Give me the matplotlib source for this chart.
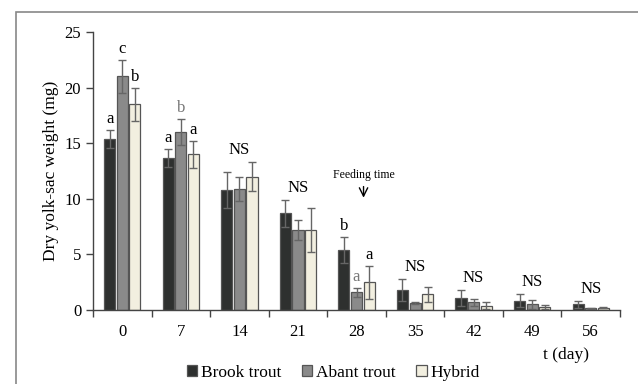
import numpy as np
import matplotlib
matplotlib.use('Agg')
from matplotlib import pyplot as plt
from matplotlib.patches import Rectangle

plt.rcParams['font.family'] = ['Liberation Serif', 'DejaVu Serif']

days = ['0', '7', '14', '21', '28', '35', '42', '49', '56']
brook = [15.4, 13.7, 10.8, 8.7, 5.4, 1.8, 1.1, 0.85, 0.5]
brook_err = [0.8, 0.8, 1.6, 1.2, 1.2, 1.0, 0.7, 0.6, 0.3]
abant = [21.0, 16.0, 10.9, 7.2, 1.6, 0.6, 0.7, 0.5, 0.15]
abant_err = [1.5, 1.2, 1.1, 0.9, 0.4, 0.1, 0.3, 0.4, 0.05]
hybrid = [18.5, 14.0, 12.0, 7.2, 2.5, 1.4, 0.4, 0.25, 0.2]
hybrid_err = [1.5, 1.2, 1.3, 2.0, 1.5, 0.7, 0.3, 0.2, 0.05]

# significance letters per group (None = NS over the group)
letters = [('a', 'c', 'b'), ('a', 'b', 'a'), None, None, ('b', 'a', 'a'),
           None, None, None, None]
letter_colors = [('black', 'black', 'black'), ('black', '#777777', 'black'), None, None,
                 ('black', '#777777', 'black'), None, None, None, None]

fig = plt.figure(figsize=(6.38, 3.84), dpi=100)
ax = fig.add_axes([0.1458, 0.1927, 0.8260, 0.724])

# outer frame
fig.patches.append(Rectangle((16 / 638, -0.1), 1.2, 1 - 12 / 384 + 0.1,
                             transform=fig.transFigure, fill=False,
                             edgecolor='#888888', linewidth=1.2))

x = np.arange(len(days))
w = 0.19
step = 0.215
series = [(brook, brook_err, '#2e302f', 'Brook trout'),
          (abant, abant_err, '#8a8a8a', 'Abant trout'),
          (hybrid, hybrid_err, '#f2efe0', 'Hybrid')]

for i, (vals, errs, col, name) in enumerate(series):
    ax.bar(x + (i - 1) * step, vals, w, yerr=errs, color=col, edgecolor='#555555',
           linewidth=0.9, label=name,
           error_kw=dict(ecolor='#666666', elinewidth=1, capsize=3, capthick=1))

for g in range(len(days)):
    tops = [brook[g] + brook_err[g], abant[g] + abant_err[g], hybrid[g] + hybrid_err[g]]
    if letters[g] is None:
        ax.annotate('NS', (g, max(tops)), xytext=(0, 3), textcoords='offset points',
                    ha='center', va='bottom', fontsize=12)
    else:
        for i in range(3):
            ax.annotate(letters[g][i], (g + (i - 1) * step, tops[i]), xytext=(0, 2),
                        textcoords='offset points', ha='center', va='bottom',
                        fontsize=12, color=letter_colors[g][i])

ax.text(4.13, 12.1, 'Feeding time', ha='center', va='center', fontsize=8.5)
ax.annotate('', xy=(4.12, 9.85), xytext=(4.12, 11.35),
            arrowprops=dict(arrowstyle='->', color='black', lw=1, mutation_scale=15))

ax.set_xlim(-0.5, 8.5)
ax.set_ylim(0, 25)
ax.set_yticks([0, 5, 10, 15, 20, 25])
ax.set_xticks(np.arange(-0.5, 9, 1))
ax.set_xticklabels([])
ax.set_xticks(x, minor=True)
ax.set_xticklabels(days, minor=True)
ax.tick_params(axis='x', which='minor', length=0, pad=10, labelsize=12)
ax.tick_params(axis='x', which='major', length=5, width=1, color='#444444')
ax.tick_params(axis='y', length=5, width=1, color='#444444', labelsize=12)
for s in ['top', 'right']:
    ax.spines[s].set_visible(False)
for s in ['left', 'bottom']:
    ax.spines[s].set_color('#444444')
    ax.spines[s].set_linewidth(1)

ax.set_ylabel('Dry yolk-sac weight (mg)', fontsize=12.5)
fig.text(566 / 638, 1 - 355 / 384, 't (day)', ha='center', va='center', fontsize=12.5)

ax.legend(loc='center', bbox_to_anchor=(333 / 638, 1 - 373 / 384),
          bbox_transform=fig.transFigure, ncol=3, frameon=False, fontsize=12.5,
          handlelength=0.6, handleheight=0.6, handletextpad=0.2, columnspacing=1.2,
          borderpad=0)

fig.savefig('out.png', dpi=100)
